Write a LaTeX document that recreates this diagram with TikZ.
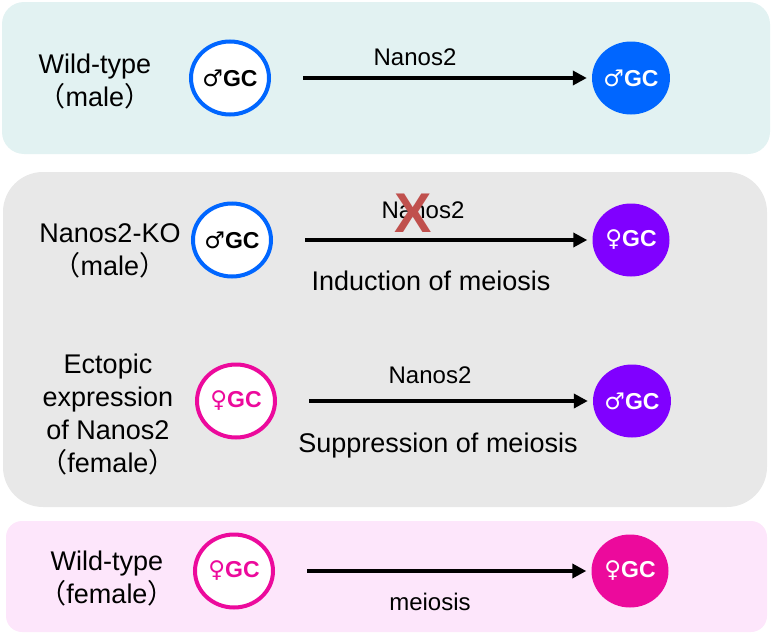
\documentclass[tikz,border=0pt]{standalone}
\usepackage{fontspec}
\setmainfont{Liberation Sans}
\newfontfamily\gsym{DejaVu Sans}
\newfontfamily\cjk{Noto Sans CJK JP}
\usepackage{tikz}
\usetikzlibrary{shapes.geometric,arrows.meta}
\definecolor{mblue}{HTML}{0066FF}
\definecolor{mpurple}{HTML}{8000FF}
\definecolor{fpink}{HTML}{EC0A9C}
\definecolor{crossred}{HTML}{C0504D}
\definecolor{bgcyan}{HTML}{E2F2F2}
\definecolor{bggrey}{HTML}{E8E8E8}
\definecolor{bgpink}{HTML}{FDE6FB}
\newcommand{\malesym}{{\gsym\mdseries ♂}}
\newcommand{\femsym}{{\gsym\mdseries ♀}}
\newcommand{\lp}{{\cjk （}}
\newcommand{\rp}{{\cjk ）}}
\tikzset{
	ring/.style 2 args={ellipse,draw=#1,line width=4pt,fill=white,text=#2,minimum width=78pt,minimum height=73pt,inner sep=0pt,font=\fontsize{23}{26}\selectfont\bfseries},
	disc/.style={ellipse,fill=#1,text=white,minimum width=77pt,minimum height=73pt,inner sep=0pt,font=\fontsize{23}{26}\selectfont\bfseries},
	flow/.style={line width=4pt,-{Triangle[length=14pt,width=14pt]},shorten <=32pt,shorten >=5pt},
	lbl/.style={font=\fontsize{27}{33}\selectfont,align=center},
	gene/.style={font=\fontsize{24}{28}\selectfont}
}
\begin{document}
\begin{tikzpicture}[x=1pt,y=-1pt]
	\useasboundingbox (0,0) rectangle (774,637);
	% panels
	\fill[bgcyan,rounded corners=22pt] (2,2) rectangle (770,154);
	\fill[bggrey,rounded corners=40pt] (3,172) rectangle (767,507);
	\fill[bgpink,rounded corners=16pt] (6,521) rectangle (767,632);

	% wild-type male
	\node [lbl] (wtm) at (95,82) {Wild-type\\\lp male\rp};
	\node [ring={mblue}{black}] (wtm1) at (230,78) {\malesym GC};
	\node [disc=mblue] (wtm2) at (631,78) {\malesym GC};
	\draw [flow] (wtm1) -- (wtm2);
	\node [gene] (wtmg) at (415,57) {Nanos2};

	% Nanos2-KO male
	\node [lbl] (ko) at (110,251) {Nanos2-KO\\\lp male\rp};
	\node [ring={mblue}{black}] (ko1) at (232,240) {\malesym GC};
	\node [disc=mpurple] (ko2) at (631,240) {\femsym GC};
	\draw [flow] (ko1) -- (ko2);
	\node [gene] (kog) at (423,210) {Nanos2};
	\node [text=crossred,font=\fontsize{56}{56}\selectfont\bfseries] (cross) at (413,213) {X};
	\node [lbl] (kot) at (431,281) {Induction of meiosis};

	% ectopic expression in female
	\node [lbl] (ec) at (108,415) {Ectopic\\expression\\of Nanos2\\\lp female\rp};
	\node [ring={fpink}{fpink}] (ec1) at (236,401) {\femsym GC};
	\node [disc=mpurple] (ec2) at (632,401) {\malesym GC};
	\draw [flow] (ec1) -- (ec2);
	\node [gene] (ecg) at (430,375) {Nanos2};
	\node [lbl] (ect) at (438,446) {Suppression of meiosis};

	% wild-type female
	\node [lbl] (wtf) at (107,579) {Wild-type\\\lp female\rp};
	\node [ring={fpink}{fpink}] (wtf1) at (234,571) {\femsym GC};
	\node [disc=fpink] (wtf2) at (630,571) {\femsym GC};
	\draw [flow] (wtf1) -- (wtf2);
	\node [gene] (wtfg) at (430,602) {meiosis};
\end{tikzpicture}
\end{document}
